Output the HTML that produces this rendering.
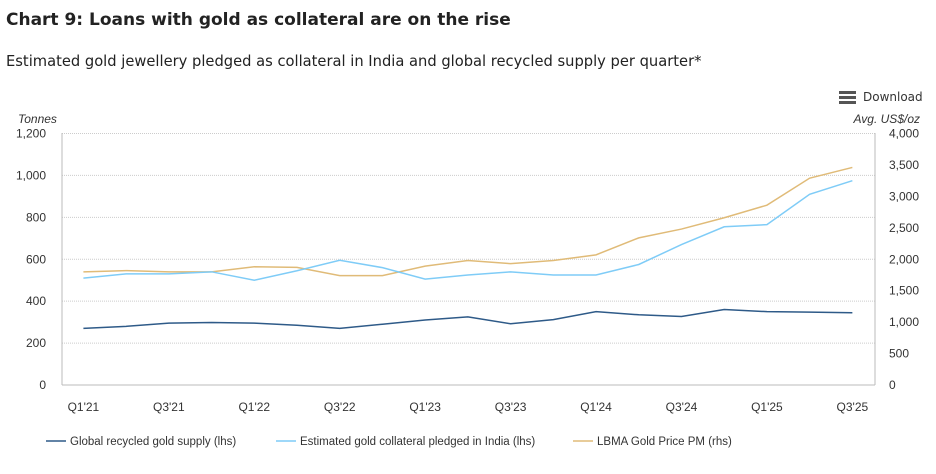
<!DOCTYPE html>
<html><head><meta charset="utf-8"><style>
body{margin:0;background:#fff;font-family:"Liberation Sans",sans-serif;}
</style></head><body>
<svg width="936" height="469" xmlns="http://www.w3.org/2000/svg">
<text x="6" y="25" font-size="17" font-weight="bold" fill="#222" font-family="DejaVu Sans">Chart 9: Loans with gold as collateral are on the rise</text>
<text x="6" y="66" font-size="14.7" fill="#222" font-family="DejaVu Sans">Estimated gold jewellery pledged as collateral in India and global recycled supply per quarter*</text>
<g>
<rect x="839" y="91" width="17" height="3" fill="#555"/><rect x="839" y="96" width="17" height="3" fill="#555"/><rect x="839" y="101" width="17" height="3" fill="#555"/>
<text x="863" y="101" font-size="12" fill="#333" font-family="DejaVu Sans">Download</text></g>
<text x="18" y="123" font-size="12" font-style="italic" fill="#333">Tonnes</text>
<text x="920" y="123" font-size="12" font-style="italic" fill="#333" text-anchor="end">Avg. US$/oz</text>
<g id="grid"></g><g id="axes"></g><g id="lines"></g>
<g>
<line x1="46" y1="441" x2="66" y2="441" stroke="#2e5a88" stroke-width="1.5"/><text x="70" y="445" font-size="11.5" fill="#333">Global recycled gold supply (lhs)</text>
<line x1="276" y1="441" x2="296" y2="441" stroke="#7fccf7" stroke-width="1.5"/><text x="300" y="445" font-size="11.5" fill="#333">Estimated gold collateral pledged in India (lhs)</text>
<line x1="573" y1="441" x2="593" y2="441" stroke="#e0bb78" stroke-width="1.5"/><text x="597" y="445" font-size="11.5" fill="#333">LBMA Gold Price PM (rhs)</text>
</g>
</svg>
<script>
const categories=["Q1'21","Q2'21","Q3'21","Q4'21","Q1'22","Q2'22","Q3'22","Q4'22","Q1'23","Q2'23","Q3'23","Q4'23","Q1'24","Q2'24","Q3'24","Q4'24","Q1'25","Q2'25","Q3'25"];
const recycled=[270,280,295,298,295,285,270,290,310,325,292,312,350,335,327,360,350,348,345];
const collateral=[510,530,530,540,500,545,595,560,505,525,540,525,525,575,670,755,765,910,975];
const goldPrice=[1800,1820,1800,1800,1880,1870,1740,1740,1890,1980,1930,1980,2070,2340,2480,2660,2860,3290,3460];
const leftTicks=[0,200,400,600,800,1000,1200];
const rightTicks=[0,500,1000,1500,2000,2500,3000,3500,4000];
const NS="http://www.w3.org/2000/svg";
const X0=83.4,DX=42.72,Y0=385,H=251.5,L=62,R=875;
const x=i=>X0+i*DX, yl=v=>Y0-v/1200*H, yr=v=>Y0-v/4000*H;
function mk(t,a,p){const e=document.createElementNS(NS,t);for(const k in a)e.setAttribute(k,a[k]);p.appendChild(e);return e;}
const grid=document.getElementById('grid'),axes=document.getElementById('axes'),lines=document.getElementById('lines');
leftTicks.forEach(v=>{if(v>0){const g=mk('line',{x1:L,x2:R,y1:yl(v),y2:yl(v),stroke:'#ccc','stroke-dasharray':'1,1'},grid);

}
const t=mk('text',{x:46,y:yl(v)+4,'font-size':12,fill:'#333','text-anchor':'end'},axes);t.textContent=v.toLocaleString('en-US');

});
rightTicks.forEach(v=>{const t=mk('text',{x:889,y:yr(v)+4,'font-size':12,fill:'#333'},axes);t.textContent=v.toLocaleString('en-US');

});
mk('line',{x1:L,x2:L,y1:133,y2:Y0,stroke:'#bbb'},axes);
mk('line',{x1:R,x2:R,y1:133,y2:Y0,stroke:'#bbb'},axes);
mk('line',{x1:L,x2:R,y1:Y0,y2:Y0,stroke:'#bbb'},axes);
categories.forEach((c,i)=>{if(i%2==0){const t=mk('text',{x:x(i),y:411,'font-size':12,fill:'#333','text-anchor':'middle'},axes);t.textContent=c;

}});
function line(d,f,col,name){const p=mk('polyline',{points:d.map((v,i)=>x(i)+','+f(v)).join(' '),fill:'none',stroke:col,'stroke-width':1.5},lines);

}
line(goldPrice,yr,'#e0bb78','gold-price-line');
line(collateral,yl,'#7fccf7','collateral-line');
line(recycled,yl,'#2e5a88','recycled-line');
</script>
</body></html>
